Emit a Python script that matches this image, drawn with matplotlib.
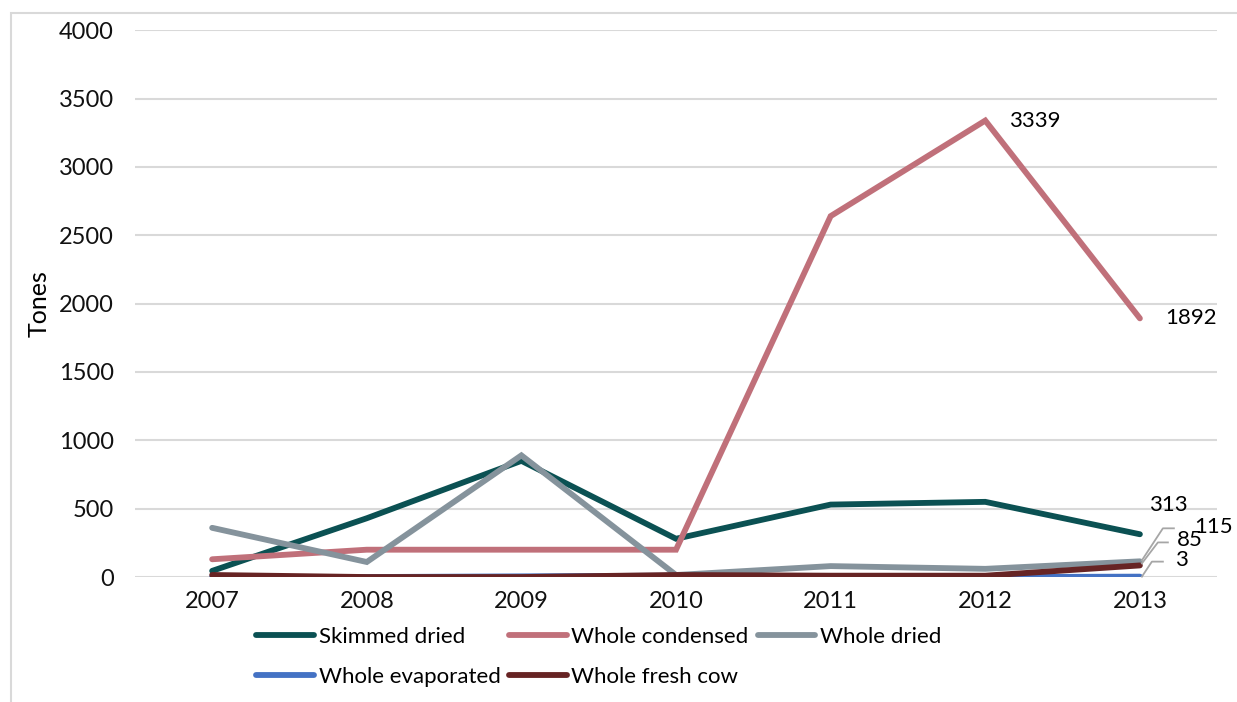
import numpy as np
import matplotlib.pyplot as plt
import matplotlib.transforms as transforms
from matplotlib.patches import Rectangle

plt.rcParams['font.family'] = ['Lato', 'DejaVu Sans']

years = ['2007', '2008', '2009', '2010', '2011', '2012', '2013']
skimmed_dried = [45, 430, 850, 280, 530, 550, 313]
whole_condensed = [130, 200, 200, 200, 2640, 3339, 1892]
whole_dried = [360, 110, 890, 15, 80, 60, 115]
whole_evaporated = [0, 0, 5, 10, 5, 0, 3]
whole_fresh_cow = [15, 0, 0, 15, 10, 10, 85]

series = [('Skimmed dried', skimmed_dried, '#0b5153'),
          ('Whole condensed', whole_condensed, '#c0707a'),
          ('Whole dried', whole_dried, '#85939c'),
          ('Whole evaporated', whole_evaporated, '#4472c4'),
          ('Whole fresh cow', whole_fresh_cow, '#672424')]

fig = plt.figure(figsize=(12.37, 7.02), dpi=100)
ax = fig.add_axes([0.109, 0.178, 0.875, 0.779])

# light frame round the chart area (right side runs off the picture)
fig.patches.append(Rectangle((0.009, -0.01), 1.1, 0.992, transform=fig.transFigure,
                             fill=False, edgecolor='#d9d9d9', linewidth=1.5))

x = np.arange(len(years))
lines = []
for name, vals, col in series:
    ln, = ax.plot(x, vals, color=col, linewidth=4.2, solid_capstyle='round',
                  solid_joinstyle='miter', label=name)
    lines.append(ln)

ax.set_xlim(-0.5, len(years) - 0.5)
ax.set_ylim(0, 4000)
ax.set_yticks(np.arange(0, 4001, 500))
ax.set_xticks(x)
ax.set_xticklabels(years)
ax.tick_params(length=0, labelsize=17, colors='#111111')
ax.tick_params(axis='y', pad=15)
ax.tick_params(axis='x', pad=10)
ax.grid(axis='y', color='#d9d9d9', linewidth=1.5)
ax.set_axisbelow(True)
for s in ax.spines.values():
    s.set_visible(False)
ax.set_ylabel('Tones', fontsize=18, labelpad=6)

# data labels (offsets in pixels from the point, up is positive)
def label_at(xi, v, dx, dy, ha='left'):
    tr = fig.dpi_scale_trans + transforms.ScaledTranslation(xi, v, ax.transData)
    ax.text(dx / 100, dy / 100, str(v), transform=tr, fontsize=16, va='center', ha=ha)

def leader(xi, v, pts):
    tr = fig.dpi_scale_trans + transforms.ScaledTranslation(xi, v, ax.transData)
    px = [p[0] / 100 for p in pts]
    py = [p[1] / 100 for p in pts]
    ax.plot(px, py, transform=tr, color='#a6a6a6', linewidth=1.3, clip_on=False)

label_at(5, whole_condensed[5], 24, 0)
label_at(6, whole_condensed[6], 25, 0)
label_at(6, skimmed_dried[6], 28, 29, ha='center')

label_at(6, whole_dried[6], 54, 34)
leader(6, whole_dried[6], [(2, 1), (23, 33), (34, 33)])
label_at(6, whole_fresh_cow[6], 37, 25)
leader(6, whole_fresh_cow[6], [(2, 2), (18, 23), (28, 23)])
label_at(6, whole_evaporated[6], 35, 17)
leader(6, whole_evaporated[6], [(2, 0), (12, 15), (23, 15)])

# legend filled row by row
order = [0, 3, 1, 4, 2]
fig.legend([lines[i] for i in order], [series[i][0] for i in order],
           loc='upper left', bbox_to_anchor=(0.2, 0.12), ncol=3, frameon=False,
           fontsize=16, handlelength=2.6, handletextpad=0.2, columnspacing=0.4,
           labelspacing=0.9, borderaxespad=0)

fig.savefig('out.png', dpi=100)
